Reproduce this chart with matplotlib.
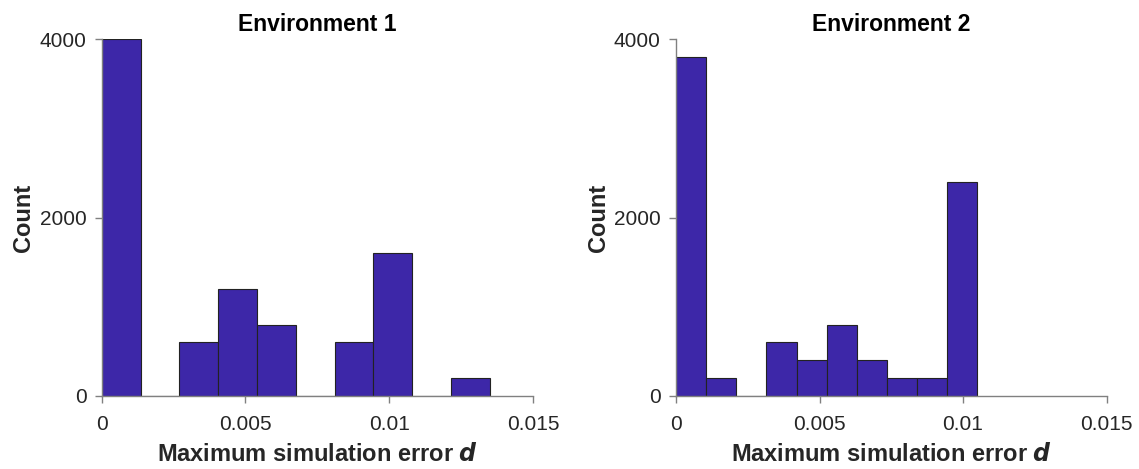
import matplotlib.pyplot as plt
import numpy as np

plt.rcParams['font.family'] = ['Liberation Sans', 'DejaVu Sans']

# histogram data (10 bins each)
env1_max = 0.0135
env1_counts = [4000, 0, 600, 1200, 800, 0, 600, 1600, 0, 200]
env2_max = 0.0105
env2_counts = [3800, 200, 0, 600, 400, 800, 400, 200, 200, 2400]

titles = ['Environment 1', 'Environment 2']
xticks = [0, 0.005, 0.01, 0.015]
xticklabels = ['0', '0.005', '0.01', '0.015']
yticks = [0, 2000, 4000]

bar_color = '#3d27a8'
axis_color = '#808080'
text_color = '#262626'

fig = plt.figure(figsize=(11.39, 4.69), dpi=100)
ax1 = fig.add_axes([0.0893, 0.1557, 0.3787, 0.7605])
ax2 = fig.add_axes([0.5935, 0.1557, 0.378, 0.7605])

for ax, hmax, counts, title in zip([ax1, ax2], [env1_max, env2_max],
                                   [env1_counts, env2_counts], titles):
    edges = np.linspace(0, hmax, len(counts) + 1)
    ax.hist(edges[:-1], bins=edges, weights=counts, color=bar_color,
            edgecolor='#222222', linewidth=0.8)
    ax.set_xlim(0, 0.015)
    ax.set_ylim(0, 4000)
    ax.set_xticks(xticks)
    ax.set_xticklabels(xticklabels)
    ax.set_yticks(yticks)
    ax.spines['top'].set_visible(False)
    ax.spines['right'].set_visible(False)
    for s in ['left', 'bottom']:
        ax.spines[s].set_color(axis_color)
        ax.spines[s].set_linewidth(1.0)
    ax.tick_params(axis='both', direction='out', length=5, width=1,
                   color=axis_color, labelcolor=text_color, labelsize=15)
    ax.tick_params(axis='x', pad=9)
    ax.tick_params(axis='y', pad=6)
    ax.set_title(title, fontsize=16.5, fontweight='bold', color='black', pad=6)
    ax.set_xlabel('Maximum simulation error $\\boldsymbol{d}$', fontsize=17,
                  fontweight='bold', color=text_color, labelpad=6)
    ax.set_ylabel('Count', fontsize=17, fontweight='bold', color=text_color,
                  labelpad=3)

fig.savefig('out.png', dpi=100)
